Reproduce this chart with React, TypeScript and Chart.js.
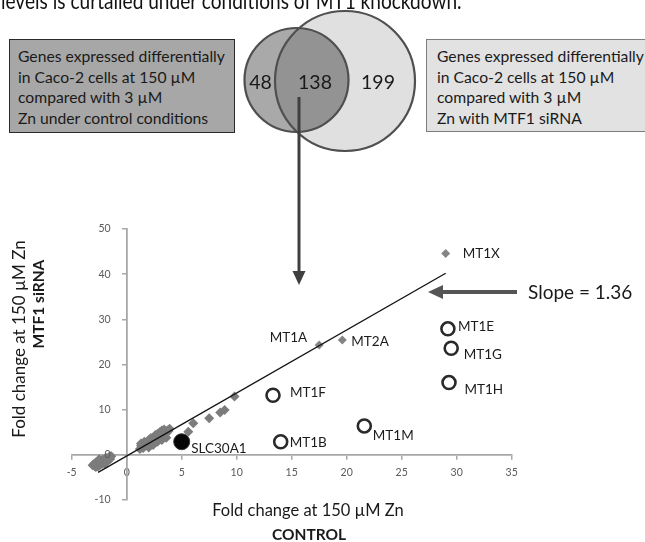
import React, { useEffect, useRef } from "react";
import { Chart, registerables } from "chart.js";

Chart.register(...registerables);

const FONT = "Lato, 'Noto Sans', sans-serif";

// ---- data ----
const clusterX = [
  1.2, 1.3, 1.4, 1.5, 1.6, 1.7, 1.8, 1.9, 2.0, 2.1, 2.2, 2.3, 2.4, 2.5, 2.6, 2.7, 2.8, 2.9, 3.0, 3.1, 3.2, 3.3, 3.4, 3.5, 3.6, 3.7, 3.8,
  1.5, 1.9, 2.3, 2.7, 3.1, 3.5, 2.0, 2.6, 3.2,
  1.6, 2.0, 2.4, 2.8, 3.2, 3.6, 2.2, 2.8, 3.4, 1.3, 3.9, 3.0,
  -3.0, -2.9, -2.8, -2.7, -2.6, -2.5, -2.4, -2.3, -2.2, -2.1, -2.0, -1.9, -1.8, -1.7, -1.6, -1.5, -1.4, -2.8, -2.4, -2.0,
  -2.6, -2.2, -1.8, -1.5, -2.5, -3.1,
  5.6, 6.05, 7.5, 8.5, 8.9, 9.8,
];
const clusterY = [
  1.3, 2.0, 1.6, 2.4, 1.9, 2.7, 2.2, 3.0, 2.5, 3.3, 2.8, 3.5, 3.1, 3.8, 3.4, 4.1, 3.7, 4.4, 4.0, 4.7, 4.2, 4.9, 4.5, 5.2, 4.8, 5.4, 5.3,
  1.5, 2.0, 2.7, 3.0, 3.6, 4.0, 3.3, 4.4, 5.4,
  2.9, 1.6, 2.2, 2.9, 3.3, 3.8, 3.7, 4.6, 5.6, 2.5, 5.8, 5.0,
  -2.1, -2.5, -1.7, -2.3, -1.5, -2.0, -1.3, -1.8, -1.1, -1.6, -0.9, -1.4, -0.7, -1.2, -0.5, -0.9, -0.3, -2.7, -2.2, -1.9,
  -2.6, -2.0, -1.6, -0.3, -1.0, -2.3,
  5.1, 7.0, 8.1, 9.4, 9.9, 12.9,
];

const diamondGenes = ["MT1X", "MT1A", "MT2A"];
const diamondGeneX = [29.0, 17.5, 19.6];
const diamondGeneY = [44.6, 24.3, 25.4];

const circleGenes = ["MT1E", "MT1G", "MT1H", "MT1F", "MT1B", "MT1M"];
const circleGeneX = [29.2, 29.5, 29.3, 13.3, 14.0, 21.6];
const circleGeneY = [27.9, 23.6, 16.0, 13.2, 2.9, 6.4];

const slcGenes = ["SLC30A1"];
const slcX = [5.0];
const slcY = [2.9];

const fitX = [-2.6, 29.0];
const fitY = [-3.9, 40.2];

const xTicks = [-5, 0, 5, 10, 15, 20, 25, 30, 35];
const yTicks = [-10, 0, 10, 20, 30, 40, 50];

const vennCounts = ["48", "138", "199"];
const leftBoxLines = [
  "Genes expressed differentially",
  "in Caco-2 cells at 150 \u00b5M",
  "compared with 3 \u00b5M",
  "Zn under control conditions",
];
const rightBoxLines = [
  "Genes expressed differentially",
  "in Caco-2 cells at 150 \u00b5M",
  "compared with 3 \u00b5M",
  "Zn with MTF1 siRNA",
];
const slopeText = "Slope = 1.36";
const xTitle = ["Fold change at 150 \u00b5M Zn", "CONTROL"];
const yTitle = ["Fold change at 150 \u00b5M Zn", "MTF1 siRNA"];
const topText = "levels is curtailed under conditions of MT1 knockdown.";

// label placement (style): dx, dy, align
const labelPlace: Record<string, [number, number, CanvasTextAlign]> = {
  MT1X: [17, 0, "left"],
  MT1A: [-12, -7.5, "right"],
  MT2A: [9, 1.5, "left"],
  MT1E: [10, -2, "left"],
  MT1G: [12.5, 6.5, "left"],
  MT1H: [15.5, 7, "left"],
  MT1F: [17, -3, "left"],
  MT1B: [9, 1, "left"],
  MT1M: [8.5, 10, "left"],
  SLC30A1: [9.5, 6.5, "left"],
};

const TICK_COLOR = "#5a5a5a";
const TICK_FONT = `10.5px ${FONT}`;

const pts = (xs: number[], ys: number[]) => xs.map((x, i) => ({ x, y: ys[i] }));

const labelPlugin = {
  id: "pointLabels",
  afterDatasetsDraw(chart: any) {
    const ctx = chart.ctx;
    ctx.save();
    ctx.font = `13.5px ${FONT}`;
    ctx.fillStyle = "#1c1c1c";
    ctx.textBaseline = "middle";
    chart.data.datasets.forEach((ds: any, di: number) => {
      if (!ds.names) return;
      const meta = chart.getDatasetMeta(di);
      meta.data.forEach((el: any, i: number) => {
        const name = ds.names[i];
        const p = labelPlace[name] || [8, 0, "left"];
        ctx.textAlign = p[2];
        ctx.fillText(name, el.x + p[0], el.y + p[1]);
      });
    });
    ctx.restore();
  },
};

// y tick labels, placed left of the crossing y axis using the library's scales
const yTickLabelPlugin = {
  id: "yTickLabels",
  afterDraw(chart: any) {
    const ys = chart.scales.y;
    const xs = chart.scales.x;
    const ctx = chart.ctx;
    const ax = xs.getPixelForValue(0);
    ctx.save();
    ctx.font = TICK_FONT;
    ctx.fillStyle = TICK_COLOR;
    ctx.textAlign = "right";
    ctx.textBaseline = "middle";
    ys.ticks.forEach((t: any) => {
      ctx.fillText(String(t.value), ax - 16, ys.getPixelForValue(t.value));
    });
    ctx.restore();
  },
};

export default function App() {
  const ref = useRef<HTMLCanvasElement>(null);
  useEffect(() => {
    if (!ref.current) return;
    const axisColor = "#a8a8a8";
    const chart = new Chart(ref.current, {
      type: "scatter",
      data: {
        datasets: [
          {
            type: "line",
            label: "fit",
            data: pts(fitX, fitY),
            borderColor: "#141414",
            borderWidth: 1.4,
            pointRadius: 0,
            fill: false,
            order: 0,
          } as any,
          {
            label: "SLC30A1",
            data: pts(slcX, slcY),
            names: slcGenes,
            pointStyle: "circle",
            pointRadius: 8,
            backgroundColor: "#050505",
            borderColor: "#333",
            borderWidth: 1,
            order: 1,
          } as any,
          {
            label: "MT circles",
            data: pts(circleGeneX, circleGeneY),
            names: circleGenes,
            pointStyle: "circle",
            pointRadius: 6.5,
            backgroundColor: "rgba(255,255,255,0)",
            borderColor: "#2a2a2a",
            borderWidth: 2.6,
            order: 2,
          } as any,
          {
            label: "MT diamonds",
            data: pts(diamondGeneX, diamondGeneY),
            names: diamondGenes,
            pointStyle: "rectRot",
            pointRadius: 4.5,
            backgroundColor: "#858585",
            borderWidth: 0,
            order: 3,
          } as any,
          {
            label: "genes",
            data: pts(clusterX, clusterY),
            pointStyle: "rectRot",
            pointRadius: 5,
            backgroundColor: "#7c7c7c",
            borderWidth: 0,
            order: 4,
          } as any,
        ],
      },
      options: {
        responsive: false,
        animation: false,
        events: [],
        layout: { padding: { left: 71.7, right: 133.3, top: 229, bottom: 42 } },
        plugins: { legend: { display: false }, tooltip: { enabled: false } },
        scales: {
          x: {
            type: "linear",
            min: -5,
            max: 35,
            position: { y: 0 } as any,
            afterBuildTicks: (s: any) => {
              s.ticks = xTicks.map((v) => ({ value: v }));
            },
            grid: { drawOnChartArea: false, drawTicks: true, tickLength: 4, color: axisColor, lineWidth: 1.5 },
            border: { display: true, color: axisColor, width: 1.8 },
            ticks: { color: TICK_COLOR, font: { family: FONT, size: 10.5 }, padding: 7, maxRotation: 0, autoSkip: false },
          },
          y: {
            type: "linear",
            min: -10,
            max: 50,
            position: { x: 0 } as any,
            afterBuildTicks: (s: any) => {
              s.ticks = yTicks.map((v) => ({ value: v }));
            },
            grid: { drawOnChartArea: false, drawTicks: true, tickLength: 4, color: axisColor, lineWidth: 1.5 },
            border: { display: true, color: axisColor, width: 1.8 },
            ticks: { display: false, autoSkip: false },
          },
        },
      },
      plugins: [labelPlugin, yTickLabelPlugin],
    });
    return () => chart.destroy();
  }, []);

  const lineH = 20.5;
  const boxText = (lines: string[]) =>
    lines.map((l, i) => (
      <div key={i} style={{ height: lineH, lineHeight: `${lineH}px`, whiteSpace: "nowrap" }}>
        {l}
      </div>
    ));

  return (
    <div
      style={{
        position: "absolute",
        left: 0,
        top: 0,
        width: 645,
        height: 542,
        overflow: "hidden",
        background: "#fff",
        fontFamily: FONT,
        color: "#1a1a1a",
      }}
    >
      <canvas ref={ref} width={645} height={542} style={{ position: "absolute", left: 0, top: 0 }} />

      {/* cut-off caption text at the top */}
      <div
        style={{
          position: "absolute",
          left: 1,
          top: -11,
          fontSize: 23,
          lineHeight: "23px",
          whiteSpace: "nowrap",
          color: "#111",
          transform: "scaleX(0.83)",
          transformOrigin: "0 0",
        }}
      >
        {topText}
      </div>

      {/* left box */}
      <div
        style={{
          position: "absolute",
          left: 9,
          top: 39,
          width: 226,
          height: 94,
          boxSizing: "border-box",
          background: "#a7a7a7",
          border: "1.6px solid #2a2a2a",
          padding: "6px 0 0 8px",
          fontSize: 15.7,
        }}
      >
        {boxText(leftBoxLines)}
      </div>

      {/* right box */}
      <div
        style={{
          position: "absolute",
          left: 426,
          top: 39,
          width: 230,
          height: 93,
          boxSizing: "border-box",
          background: "#e2e2e2",
          border: "1.4px solid #7c7c7c",
          padding: "6px 0 0 10px",
          fontSize: 15.7,
        }}
      >
        {boxText(rightBoxLines)}
      </div>

      <svg width={645} height={542} style={{ position: "absolute", left: 0, top: 0 }}>
        <defs>
          <clipPath id="bigClip">
            <circle cx={345} cy={81} r={70} />
          </clipPath>
        </defs>
        <circle cx={345} cy={81} r={70} fill="#e0e0e0" />
        <circle cx={296.5} cy={80} r={52} fill="#a9a9a9" />
        <circle cx={296.5} cy={80} r={52} fill="#939393" clipPath="url(#bigClip)" />
        <circle cx={345} cy={81} r={70} fill="none" stroke="#4f4f4f" strokeWidth={2.2} />
        <circle cx={296.5} cy={80} r={52} fill="none" stroke="#4f4f4f" strokeWidth={2.2} />
        <text x={260.5} y={81} fontSize={19.5} textAnchor="middle" dominantBaseline="central" fill="#1a1a1a" fontFamily={FONT}>
          {vennCounts[0]}
        </text>
        <text x={315} y={81} fontSize={19.5} textAnchor="middle" dominantBaseline="central" fill="#1a1a1a" fontFamily={FONT}>
          {vennCounts[1]}
        </text>
        <text x={378} y={81} fontSize={19.5} textAnchor="middle" dominantBaseline="central" fill="#1a1a1a" fontFamily={FONT}>
          {vennCounts[2]}
        </text>
        {/* vertical arrow */}
        <line x1={299} y1={97} x2={299} y2={273} stroke="#3f3f3f" strokeWidth={3} />
        <polygon points="292.5,271 305.5,271 299,285" fill="#3f3f3f" />
        {/* slope arrow */}
        <line x1={517} y1={292} x2={441} y2={292} stroke="#555" strokeWidth={4} />
        <polygon points="443,285 443,299 428,292" fill="#555" />
      </svg>

      <div style={{ position: "absolute", left: 528, top: 280, fontSize: 19, lineHeight: "24px", whiteSpace: "nowrap", color: "#1a1a1a" }}>
        {slopeText}
      </div>

      {/* x title */}
      <div style={{ position: "absolute", left: 158, width: 300, top: 499, textAlign: "center", fontSize: 16.5, lineHeight: "22px", whiteSpace: "nowrap" }}>
        {xTitle[0]}
      </div>
      <div style={{ position: "absolute", left: 159, width: 300, top: 523, textAlign: "center", fontSize: 15.5, fontWeight: 700, lineHeight: "22px", whiteSpace: "nowrap" }}>
        {xTitle[1]}
      </div>

      {/* y title */}
      <div
        style={{
          position: "absolute",
          left: 19 - 150,
          top: 339 - 11,
          width: 300,
          textAlign: "center",
          fontSize: 17,
          lineHeight: "22px",
          whiteSpace: "nowrap",
          transform: "rotate(-90deg)",
        }}
      >
        {yTitle[0]}
      </div>
      <div
        style={{
          position: "absolute",
          left: 38 - 150,
          top: 304 - 11,
          width: 300,
          textAlign: "center",
          fontSize: 15.5,
          fontWeight: 700,
          lineHeight: "22px",
          whiteSpace: "nowrap",
          transform: "rotate(-90deg)",
        }}
      >
        {yTitle[1]}
      </div>
    </div>
  );
}
